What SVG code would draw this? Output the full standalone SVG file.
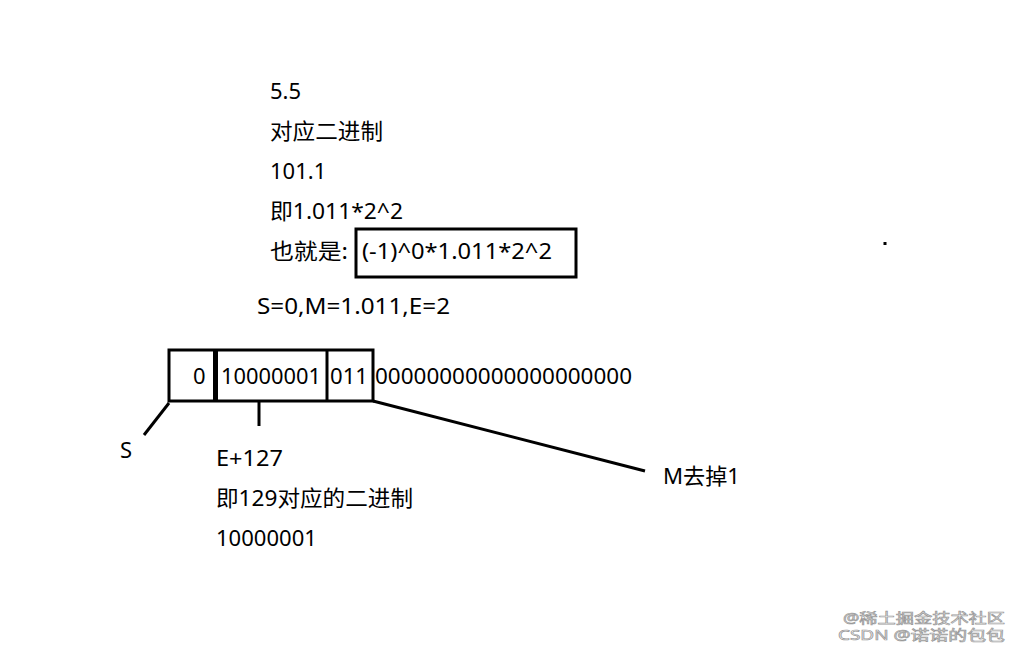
<svg xmlns="http://www.w3.org/2000/svg" width="1025" height="651" viewBox="0 0 1025 651">
<style>
.t{font-family:"Noto Sans","Noto Sans CJK SC",sans-serif;font-size:22px;fill:#000}
.b{fill:none;stroke:#000;stroke-width:3}
.l{stroke:#000;stroke-width:3;fill:none}
.w{font-family:"Noto Sans","Noto Sans CJK SC",sans-serif;font-size:14px;fill:#fff;stroke:#999;stroke-width:0.7}
</style>
<rect width="1025" height="651" fill="#fff"/>
<g id="steps">
<text class="t" x="270" y="99">5.5</text>
<text class="t" x="270" y="139" textLength="113" lengthAdjust="spacingAndGlyphs">对应二进制</text>
<text class="t" x="270" y="179">101.1</text>
<text class="t" x="270" y="219" textLength="133" lengthAdjust="spacingAndGlyphs">即1.011*2^2</text>
<text class="t" x="270" y="259" textLength="78" lengthAdjust="spacingAndGlyphs">也就是:</text>
</g>
<g id="formula">
<rect class="b" x="356" y="229" width="220" height="48"/>
<text class="t" x="362" y="259" textLength="190" lengthAdjust="spacingAndGlyphs">(-1)^0*1.011*2^2</text>
</g>
<g id="values">
<text class="t" x="257" y="314" textLength="193" lengthAdjust="spacingAndGlyphs">S=0,M=1.011,E=2</text>
</g>
<g id="bits">
<rect class="b" x="169" y="350" width="204" height="51"/>
<line x1="215.5" y1="350" x2="215.5" y2="401" stroke="#000" stroke-width="5"/>
<line class="l" x1="327" y1="350" x2="327" y2="401"/>
<text class="t" x="193" y="384">0</text>
<text class="t" x="221" y="384" textLength="100" lengthAdjust="spacingAndGlyphs">10000001</text>
<text class="t" x="330" y="384" textLength="38" lengthAdjust="spacingAndGlyphs">011</text>
<text class="t" x="375" y="384" textLength="257" lengthAdjust="spacingAndGlyphs">00000000000000000000</text>
</g>
<g id="connectors">
<line class="l" x1="169" y1="403" x2="144" y2="435"/>
<line class="l" x1="259" y1="401" x2="259" y2="426"/>
<line class="l" x1="373" y1="401" x2="645" y2="471"/>
</g>
<g id="label-s">
<text class="t" x="120" y="458">S</text>
</g>
<g id="label-e">
<text class="t" x="216" y="466" textLength="67" lengthAdjust="spacingAndGlyphs">E+127</text>
<text class="t" x="216" y="506" textLength="197" lengthAdjust="spacingAndGlyphs">即129对应的二进制</text>
<text class="t" x="216" y="546" textLength="101" lengthAdjust="spacingAndGlyphs">10000001</text>
</g>
<g id="label-m">
<text class="t" x="663" y="484" textLength="77" lengthAdjust="spacingAndGlyphs">M去掉1</text>
</g>
<rect x="883.5" y="242" width="3" height="3" fill="#000"/>
<g id="watermark">
<text class="w" x="843" y="623" textLength="162" lengthAdjust="spacingAndGlyphs">@稀土掘金技术社区</text>
<text class="w" x="838" y="640" textLength="167" lengthAdjust="spacingAndGlyphs">CSDN @诺诺的包包</text>
</g>
</svg>
